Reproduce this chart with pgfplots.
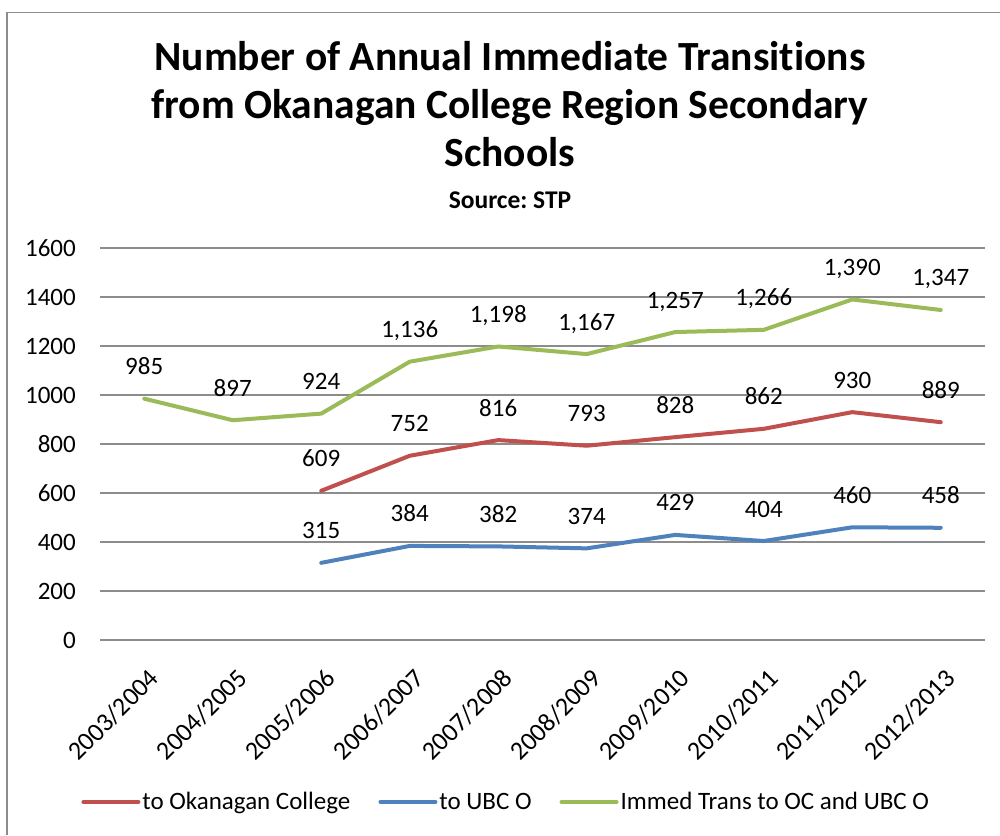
\documentclass[border=0pt]{standalone}
\usepackage{pgfplots}
\pgfplotsset{compat=1.18}
\usepackage{fontspec}
\setmainfont{Carlito}[Ligatures={NoCommon}]
\frenchspacing
\definecolor{cred}{HTML}{C0504D}
\definecolor{cblue}{HTML}{4F81BD}
\definecolor{cgreen}{HTML}{9BBB59}
\definecolor{cgrid}{HTML}{8C8C8C}
\newcommand{\lbl}{\fontsize{25}{30}\selectfont}
\begin{document}
\begin{tikzpicture}[x=1pt,y=1pt]
\path[use as bounding box] (0,0) rectangle (1000,835);
\draw[cgrid, line width=1.5pt] (7,0) -- (7,822.5) -- (1000,822.5);
\begin{scope}[every node/.style={font=\fontsize{41.5}{49}\selectfont\bfseries, anchor=base, inner sep=0pt}]
\node at (510,764) {Number of Annual Immediate Transitions};
\node at (510,716.5) {from Okanagan College Region Secondary};
\node at (510,668) {Schools};
\end{scope}
\node[font=\fontsize{25.5}{30}\selectfont\bfseries, inner sep=0pt] at (510,635) {Source: STP};
\begin{axis}[
  at={(100pt,195pt)}, anchor=south west,
  scale only axis, width=885pt, height=392pt,
  xmin=-0.5, xmax=9.5, ymin=0, ymax=1600,
  ytick={0,200,...,1600},
  xtick={0,...,9},
  xticklabels={2003/2004,2004/2005,2005/2006,2006/2007,2007/2008,2008/2009,2009/2010,2010/2011,2011/2012,2012/2013},
  ymajorgrids, grid style={cgrid, line width=1.3pt},
  axis line style={draw=none},
  major tick length=0pt,
  clip=false,
  /pgf/number format/assume math mode=true,
  /pgf/number format/1000 sep={},
  tick label style={font=\lbl, text=black},
  yticklabel style={anchor=east, inner sep=0pt, xshift=-24pt},
  xticklabel style={font=\fontsize{26}{30}\selectfont, inner sep=0pt, xshift=3pt, yshift=-27pt, rotate=45, anchor=north east},
  nodes near coords={\pgfmathprintnumber[1000 sep={,},assume math mode=true]{\pgfplotspointmeta}},
  every node near coord/.append style={font=\lbl, text=black, anchor=base, inner sep=0pt, yshift=24pt},
  legend columns=3,
  legend style={at={(0.459,-0.413)}, anchor=center, draw=none, font=\lbl,
    nodes={inner sep=2pt},
    /tikz/every even column/.append style={column sep=26pt}},
  legend image code/.code={\draw[#1, line width=4pt, line cap=round] (0pt,0pt) -- (55pt,0pt);},
  every axis plot/.append style={line width=4pt, line join=round, line cap=round, mark=none},
]
\addplot[cred] coordinates {(2,609) (3,752) (4,816) (5,793) (6,828) (7,862) (8,930) (9,889)};
\addlegendentry{to Okanagan College}
\addplot[cblue] coordinates {(2,315) (3,384) (4,382) (5,374) (6,429) (7,404) (8,460) (9,458)};
\addlegendentry{to UBC O}
\addplot[cgreen] coordinates {(0,985) (1,897) (2,924) (3,1136) (4,1198) (5,1167) (6,1257) (7,1266) (8,1390) (9,1347)};
\addlegendentry{Immed Trans to OC and UBC O}
\end{axis}
\end{tikzpicture}
\end{document}
